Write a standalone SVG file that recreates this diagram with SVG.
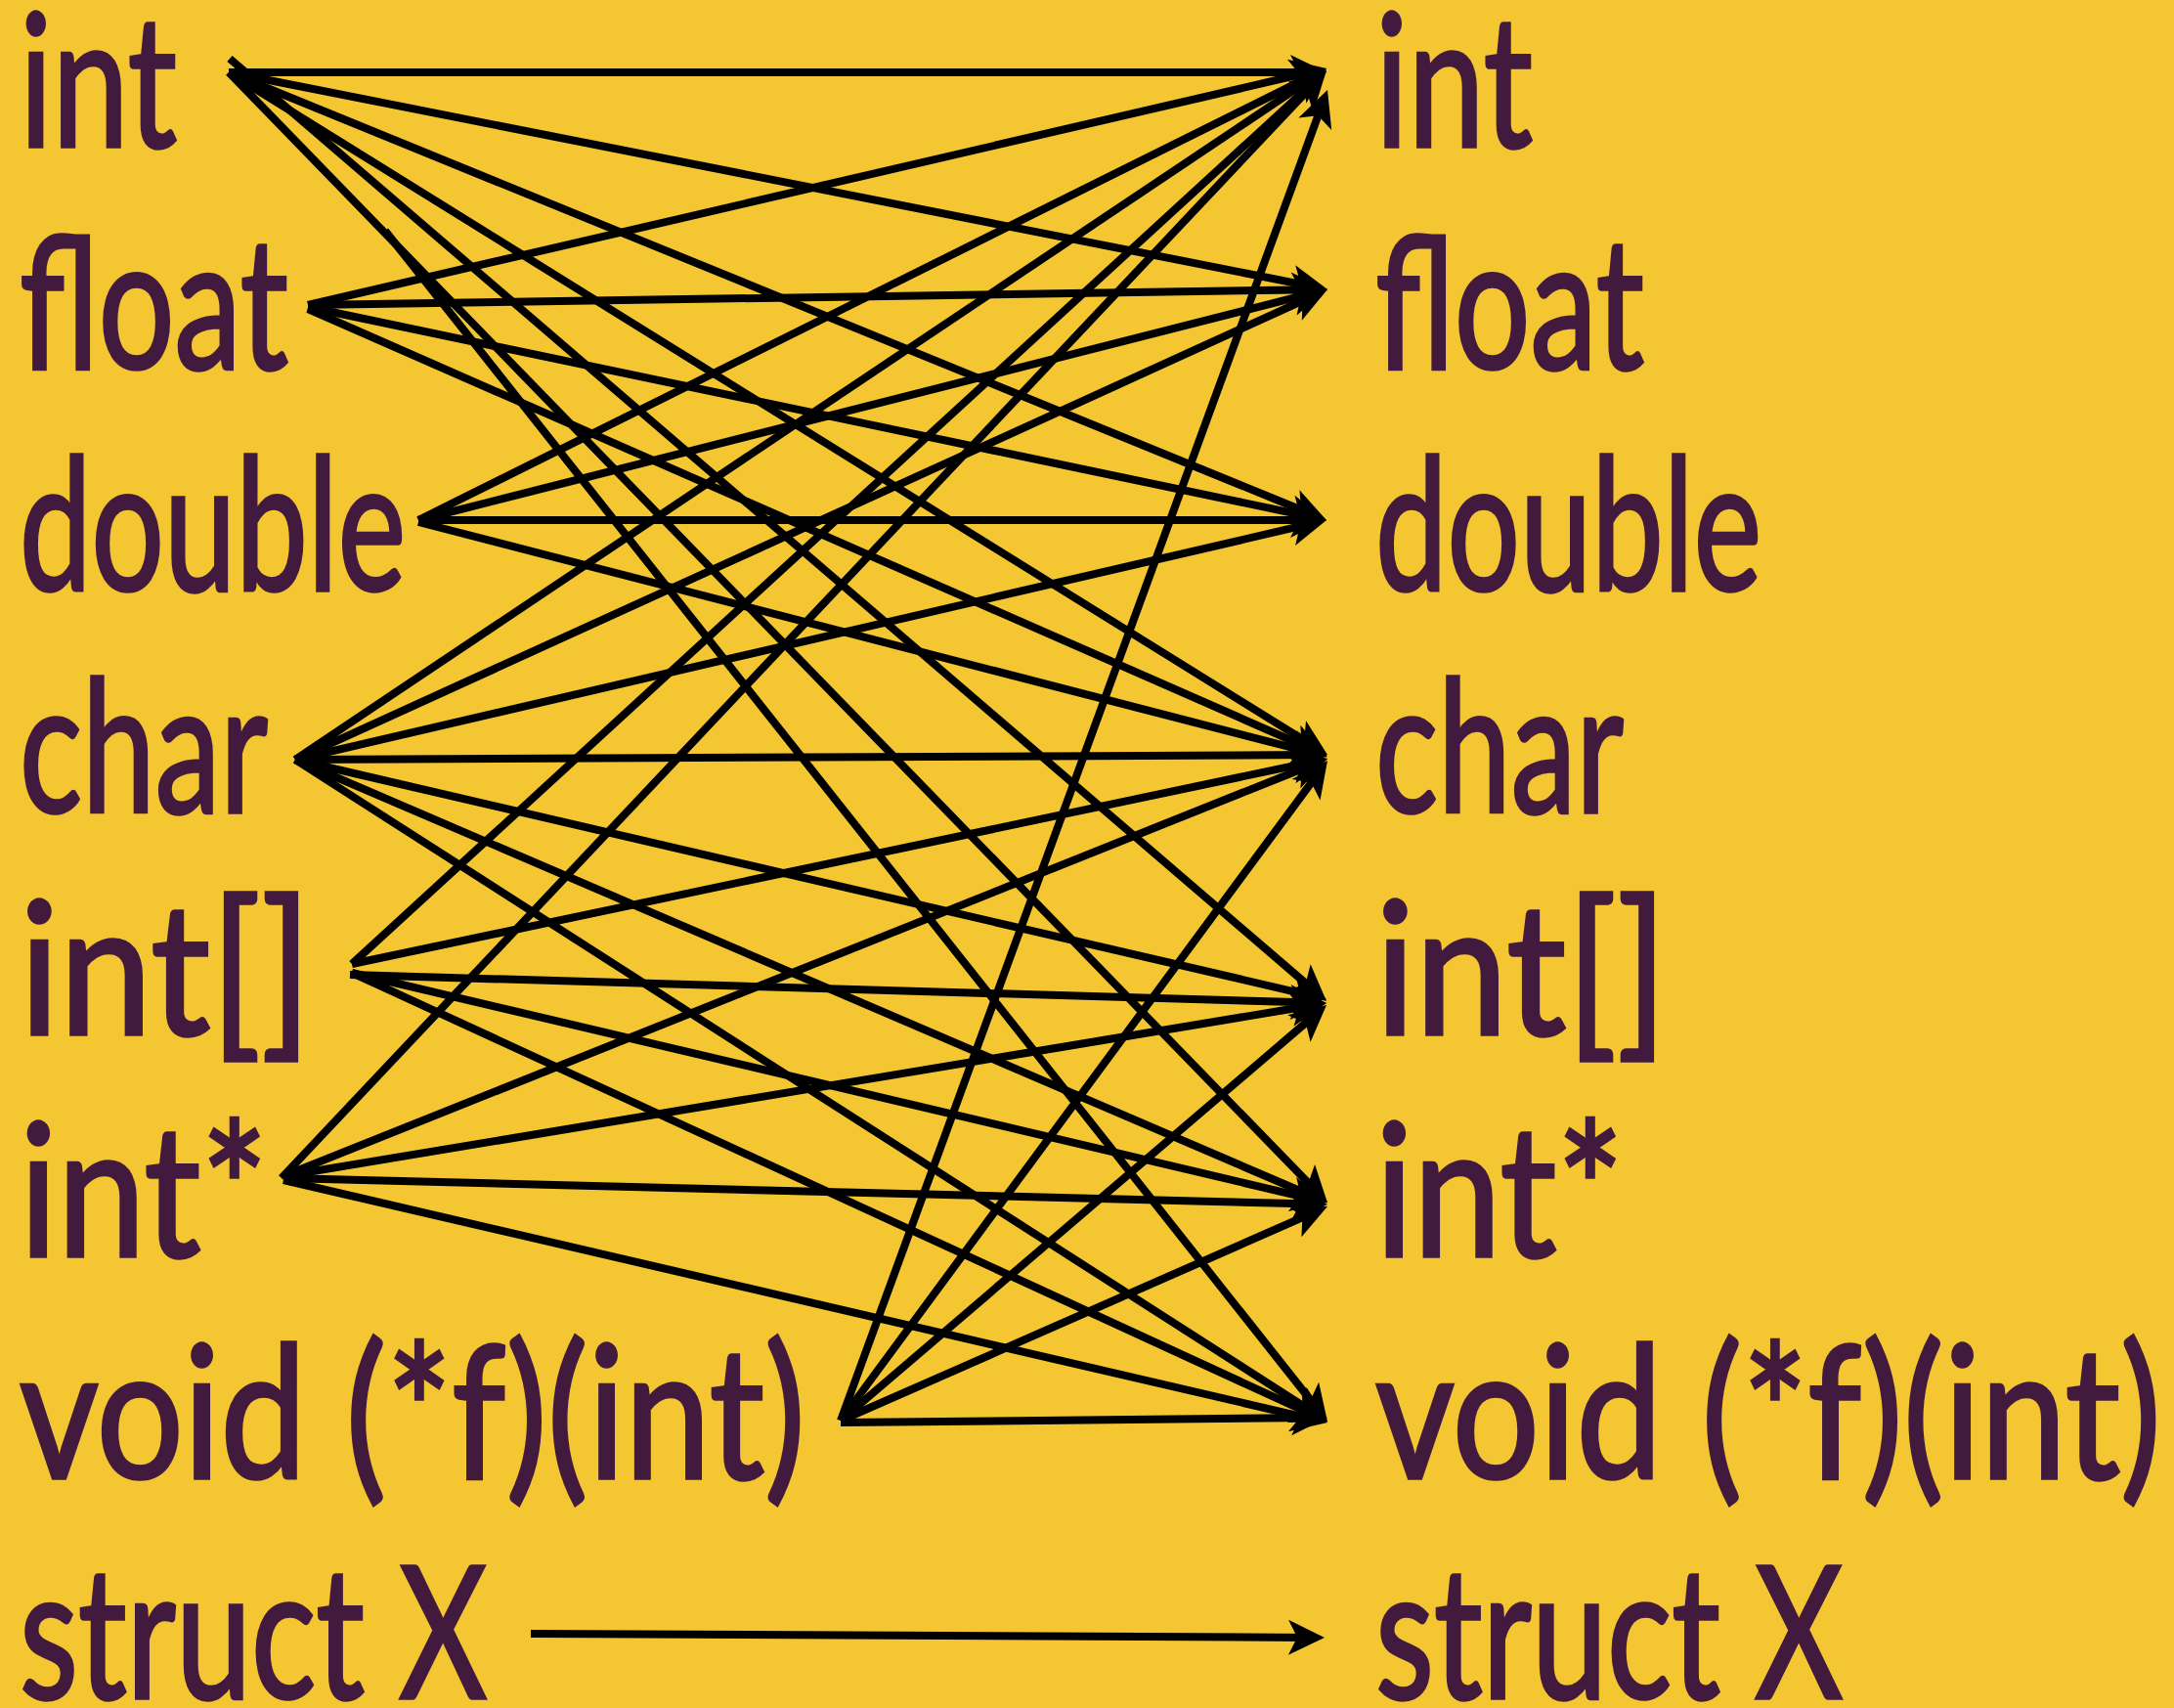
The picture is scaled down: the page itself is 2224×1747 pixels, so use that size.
<svg xmlns="http://www.w3.org/2000/svg" width="2224" height="1747" viewBox="0 0 2224 1747">
<style>
.lbl{font-family:Lato,"Open Sans","Liberation Sans",sans-serif;font-size:188px;fill:#421a3d;stroke:#421a3d;stroke-width:3.5px}
.e{stroke:#000;stroke-width:8;fill:none;marker-end:url(#ah)}
</style>
<defs>
<marker id="ah" markerUnits="userSpaceOnUse" orient="auto" refX="0" refY="0" markerWidth="80" markerHeight="80" viewBox="-40 -40 80 80" overflow="visible">
<path d="M14,0 L-23,-18 L-14,0 L-23,18 Z" fill="#000"/>
</marker>
</defs>
<rect width="2224" height="1747" fill="#f4c632"/>
<g id="left-int"><text class="lbl" x="20" y="150" textLength="161" lengthAdjust="spacingAndGlyphs">int</text></g>
<g id="left-float"><text class="lbl" x="20" y="377" textLength="275" lengthAdjust="spacingAndGlyphs">float</text></g>
<g id="left-double"><text class="lbl" x="20" y="604" textLength="395" lengthAdjust="spacingAndGlyphs">double</text></g>
<g id="left-char"><text class="lbl" x="20" y="831" textLength="254" lengthAdjust="spacingAndGlyphs">char</text></g>
<g id="left-intarr"><text class="lbl" x="20" y="1058" textLength="299" lengthAdjust="spacingAndGlyphs">int[]</text></g>
<g id="left-intptr"><text class="lbl" x="20" y="1285" textLength="254" lengthAdjust="spacingAndGlyphs">int*</text></g>
<g id="left-funcptr"><text class="lbl" x="20" y="1512" textLength="804" lengthAdjust="spacingAndGlyphs">void (*f)(int)</text></g>
<g id="left-struct"><text class="lbl" x="20" y="1737" textLength="478" lengthAdjust="spacingAndGlyphs">struct X</text></g>
<g id="right-int"><text class="lbl" x="1407" y="150" textLength="161" lengthAdjust="spacingAndGlyphs">int</text></g>
<g id="right-float"><text class="lbl" x="1407" y="377" textLength="275" lengthAdjust="spacingAndGlyphs">float</text></g>
<g id="right-double"><text class="lbl" x="1407" y="604" textLength="395" lengthAdjust="spacingAndGlyphs">double</text></g>
<g id="right-char"><text class="lbl" x="1407" y="831" textLength="254" lengthAdjust="spacingAndGlyphs">char</text></g>
<g id="right-intarr"><text class="lbl" x="1407" y="1058" textLength="299" lengthAdjust="spacingAndGlyphs">int[]</text></g>
<g id="right-intptr"><text class="lbl" x="1407" y="1285" textLength="254" lengthAdjust="spacingAndGlyphs">int*</text></g>
<g id="right-funcptr"><text class="lbl" x="1407" y="1512" textLength="804" lengthAdjust="spacingAndGlyphs">void (*f)(int)</text></g>
<g id="right-struct"><text class="lbl" x="1407" y="1737" textLength="478" lengthAdjust="spacingAndGlyphs">struct X</text></g>
<g id="connectors">
<path class="e" d="M234,74 L1343,74"/>
<path class="e" d="M234,74 L1344.3,293.3"/>
<path class="e" d="M234,74 L1344,526.7"/>
<path class="e" d="M234,74 L1346.1,764.6"/>
<path class="e" d="M235,60 L1346.4,1014.9"/>
<path class="e" d="M234,74 L1348.2,1220"/>
<path class="e" d="M394,236 L1349.3,1443"/>
<path class="e" d="M315,312 L1343.4,73.2"/>
<path class="e" d="M315,312 L1344,296.2"/>
<path class="e" d="M315,314 L1343.3,529.1"/>
<path class="e" d="M315,316 L1344.2,767.4"/>
<path class="e" d="M428,532 L1344.5,76.2"/>
<path class="e" d="M428,532 L1344.4,299.4"/>
<path class="e" d="M428,532 L1343,532"/>
<path class="e" d="M428,534 L1344.4,770.5"/>
<path class="e" d="M302,777 L1345.4,77.8"/>
<path class="e" d="M302,777 L1345.3,301.8"/>
<path class="e" d="M302,777 L1343.4,535.2"/>
<path class="e" d="M302,777 L1344,772.1"/>
<path class="e" d="M302,777 L1343.4,1018.8"/>
<path class="e" d="M302,777 L1345.1,1224.5"/>
<path class="e" d="M302,777 L1346.2,1446.4"/>
<path class="e" d="M360,986 L1346.7,81.5"/>
<path class="e" d="M360,986 L1344.3,778.9"/>
<path class="e" d="M358,997 L1343,1025.6"/>
<path class="e" d="M360,995 L1344.4,1226.8"/>
<path class="e" d="M360,995 L1345.3,1448.2"/>
<path class="e" d="M288,1205 L1347.4,82.2"/>
<path class="e" d="M290,1203 L1345,781.2"/>
<path class="e" d="M290,1203 L1343.2,1028.3"/>
<path class="e" d="M290,1205 L1344,1231.6"/>
<path class="e" d="M290,1207 L1344.4,1451.8"/>
<path class="e" d="M860,1453 L1353.2,105.1"/>
<path class="e" d="M860,1453 L1349.7,789.3"/>
<path class="e" d="M860,1453 L1346.4,1037.1"/>
<path class="e" d="M860,1453 L1345.2,1239.6"/>
<path class="e" d="M860,1455 L1344,1450.1"/>
<path class="e" d="M543,1671 L1341,1674.9"/>
</g>
</svg>
